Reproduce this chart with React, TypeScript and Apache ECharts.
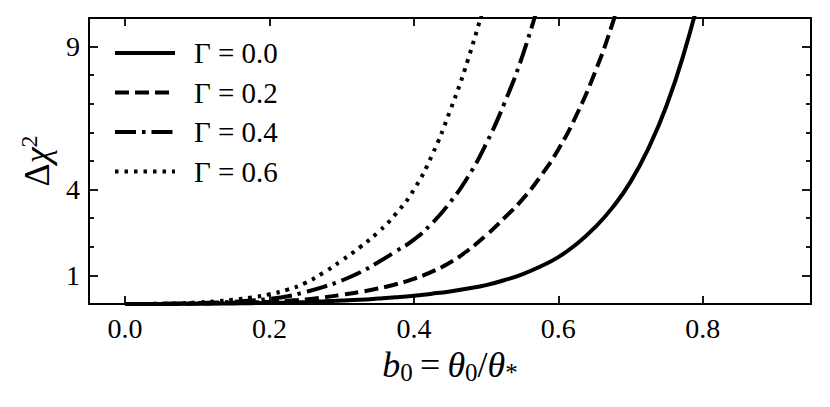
import React, { useEffect, useRef } from "react";
import * as echarts from "echarts";

// ---- data ----
const seriesNames = ["Γ = 0.0", "Γ = 0.2", "Γ = 0.4", "Γ = 0.6"];

const gamma00X = [0, 0.025, 0.05, 0.075, 0.1, 0.125, 0.15, 0.175, 0.2, 0.225, 0.25, 0.275, 0.3, 0.325, 0.35, 0.375, 0.4, 0.425, 0.45, 0.475, 0.5, 0.525, 0.55, 0.575, 0.6, 0.625, 0.65, 0.675, 0.7, 0.725, 0.75, 0.775, 0.8];
const gamma00Y = [0, 0.0005, 0.002, 0.005, 0.01, 0.014, 0.02, 0.03, 0.04, 0.052, 0.07, 0.093, 0.12, 0.15, 0.19, 0.235, 0.29, 0.36, 0.44, 0.54, 0.66, 0.83, 1.04, 1.31, 1.64, 2.09, 2.66, 3.37, 4.27, 5.45, 6.94, 8.85, 11.2];

const gamma02X = [0, 0.025, 0.05, 0.075, 0.1, 0.125, 0.15, 0.175, 0.2, 0.225, 0.25, 0.275, 0.3, 0.325, 0.35, 0.375, 0.4, 0.425, 0.45, 0.475, 0.5, 0.525, 0.55, 0.575, 0.6, 0.625, 0.65, 0.675, 0.7];
const gamma02Y = [0, 0.001, 0.004, 0.008, 0.015, 0.025, 0.04, 0.057, 0.08, 0.115, 0.16, 0.23, 0.32, 0.42, 0.54, 0.69, 0.88, 1.13, 1.45, 1.88, 2.4, 3.0, 3.65, 4.45, 5.4, 6.6, 8.05, 9.8, 11.9];

const gamma04X = [0, 0.025, 0.05, 0.075, 0.1, 0.125, 0.15, 0.175, 0.2, 0.225, 0.25, 0.275, 0.3, 0.325, 0.35, 0.375, 0.4, 0.425, 0.45, 0.475, 0.5, 0.525, 0.55, 0.575];
const gamma04Y = [0, 0.002, 0.008, 0.017, 0.03, 0.05, 0.08, 0.12, 0.18, 0.27, 0.42, 0.6, 0.82, 1.1, 1.45, 1.84, 2.25, 2.82, 3.55, 4.45, 5.6, 7.0, 8.65, 10.7];

const gamma06X = [0, 0.025, 0.05, 0.075, 0.1, 0.125, 0.15, 0.175, 0.2, 0.225, 0.25, 0.275, 0.3, 0.325, 0.35, 0.375, 0.4, 0.425, 0.45, 0.475, 0.5];
const gamma06Y = [0, 0.002, 0.01, 0.025, 0.05, 0.09, 0.15, 0.23, 0.34, 0.5, 0.74, 1.1, 1.52, 1.98, 2.5, 3.15, 4.0, 5.2, 6.75, 8.55, 10.7];

const xTickValues = [0, 0.2, 0.4, 0.6, 0.8];
const yTickValues = [1, 4, 9];
const yMinorTickValues = [2, 3, 5, 6, 7, 8];

const FONT = "'Liberation Serif', 'DejaVu Serif', serif";

export default function App() {
  const ref = useRef<HTMLDivElement>(null);

  useEffect(() => {
    if (!ref.current) return;
    const chart = echarts.init(ref.current, undefined, { renderer: "svg" });

    const lineCol = "#000";
    const axisLine = { show: true, onZero: false, lineStyle: { color: lineCol, width: 2 } };
    const tickStyle = { color: lineCol, width: 1.8 };

    const mk = (xs: number[], ys: number[]) => xs.map((x, i) => [x, ys[i]]);
    const dashTypes: any[] = ["solid", [14, 6], [21, 6, 3.5, 6], [3.5, 6]];
    const datasets = [mk(gamma00X, gamma00Y), mk(gamma02X, gamma02Y), mk(gamma04X, gamma04Y), mk(gamma06X, gamma06Y)];

    const option: any = {
      animation: false,
      backgroundColor: "#fff",
      grid: { left: 89, top: 18, right: 19, bottom: 103, containLabel: false, outerBoundsMode: "none" },
      legend: {
        orient: "vertical",
        left: 113,
        top: 38,
        padding: 0,
        itemWidth: 60,
        itemHeight: 14,
        itemGap: 9.5,
        data: seriesNames,
        itemStyle: { opacity: 0, color: "rgba(0,0,0,0)", borderWidth: 0 },
        lineStyle: { width: 4 },
        textStyle: { fontSize: 29, fontFamily: FONT, color: "#000", lineHeight: 30, padding: [0, 0, 0, 14] },
      },
      xAxis: [
        {
          type: "value",
          position: "bottom",
          min: -0.05,
          max: 0.95,
          axisLine,
          axisTick: { show: true, inside: true, length: 8, customValues: xTickValues, lineStyle: tickStyle },
          axisLabel: {
            customValues: xTickValues,
            formatter: (v: number) => v.toFixed(1),
            fontSize: 28,
            fontFamily: FONT,
            color: "#000",
            margin: 10,
          },
          splitLine: { show: false },
          name: "{i|b}{s|0}{n|\u2009=\u2009}{i|θ}{s|0}{n|/}{i|θ}{s|*}",
          nameLocation: "middle",
          nameGap: 38,
          nameTextStyle: {
            fontFamily: FONT,
            color: "#000",
            rich: {
              i: { fontStyle: "italic", fontSize: 36, lineHeight: 40, fontFamily: FONT, color: "#000" },
              n: { fontSize: 36, lineHeight: 40, fontFamily: FONT, color: "#000" },
              s: { fontSize: 25, lineHeight: 20, verticalAlign: "bottom", fontFamily: FONT, color: "#000" },
            },
          },
        },
        {
          type: "value",
          position: "top",
          min: -0.05,
          max: 0.95,
          axisLine,
          axisTick: { show: true, inside: true, length: 8, customValues: xTickValues, lineStyle: tickStyle },
          axisLabel: { show: false },
          splitLine: { show: false },
        },
      ],
      yAxis: [
        {
          type: "value",
          position: "left",
          min: 0,
          max: 10,
          axisLine,
          axisTick: { show: true, inside: true, length: 9, customValues: yTickValues, lineStyle: tickStyle },
          axisLabel: { customValues: yTickValues, fontSize: 28, fontFamily: FONT, color: "#000", margin: 9 },
          splitLine: { show: false },
          name: "{n|Δ}{i|χ}{p|2}",
          nameLocation: "middle",
          nameGap: 32,
          nameRotate: 90,
          nameTextStyle: {
            fontFamily: FONT,
            color: "#000",
            rich: {
              n: { fontSize: 36, lineHeight: 40, fontFamily: FONT, color: "#000" },
              i: { fontStyle: "italic", fontSize: 36, lineHeight: 40, fontFamily: FONT, color: "#000" },
              p: { fontSize: 24, lineHeight: 20, verticalAlign: "top", fontFamily: FONT, color: "#000" },
            },
          },
        },
        {
          type: "value",
          position: "right",
          min: 0,
          max: 10,
          axisLine,
          axisTick: { show: true, inside: true, length: 9, customValues: yTickValues, lineStyle: tickStyle },
          axisLabel: { show: false },
          splitLine: { show: false },
        },
        {
          type: "value",
          position: "left",
          min: 0,
          max: 10,
          axisLine: { show: false, onZero: false },
          axisTick: { show: true, inside: true, length: 5, customValues: yMinorTickValues, lineStyle: tickStyle },
          axisLabel: { show: false },
          splitLine: { show: false },
        },
        {
          type: "value",
          position: "right",
          min: 0,
          max: 10,
          axisLine: { show: false, onZero: false },
          axisTick: { show: true, inside: true, length: 5, customValues: yMinorTickValues, lineStyle: tickStyle },
          axisLabel: { show: false },
          splitLine: { show: false },
        },
      ],
      series: seriesNames.map((name, k) => ({
        name,
        type: "line",
        xAxisIndex: 0,
        yAxisIndex: 0,
        data: datasets[k],
        symbol: "none",
        showSymbol: false,
        smooth: 0.5,
        clip: true,
        lineStyle: { color: "#000", width: 4, type: dashTypes[k], cap: "butt" },
        itemStyle: { color: "#000" },
        emphasis: { disabled: true },
      })),
    };

    chart.setOption(option);
    return () => chart.dispose();
  }, []);

  return (
    <div
      ref={ref}
      style={{ position: "fixed", left: 0, top: 0, width: 830, height: 407, background: "#fff" }}
    />
  );
}
